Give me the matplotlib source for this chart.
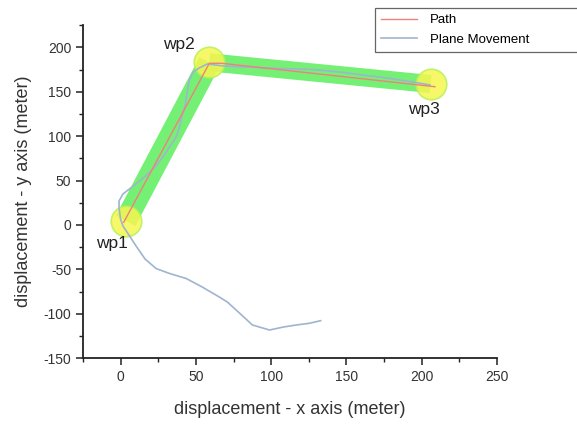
import matplotlib
matplotlib.use('Agg')
import matplotlib.pyplot as plt
import numpy as np

plt.rcParams['font.family'] = ['Liberation Sans', 'DejaVu Sans']
plt.rcParams['axes.unicode_minus'] = False

# ── Data ──
wp_names = ["wp1", "wp2", "wp3"]
wp_x = [3.3, 58.9, 206.0]
wp_y = [4.8, 183.1, 158.7]

path_x = [2.0, 58.9, 67.0, 208.9]
path_y = [3.0, 182.0, 182.0, 155.6]

plane_x = [132.9, 125.5, 116.9, 108.2, 98.9, 87.5, 78.9, 70.9, 65.5, 54.2,
           43.5, 32.2, 23.5, 16.2, 10.2, 5.5, 1.5, -0.1, -1.1, -1.1,
           1.5, 7.5, 15.5, 22.2, 28.2, 32.9, 36.9, 38.9, 40.9, 42.9,
           44.2, 45.5, 48.2, 52.2, 57.5, 68.9, 83.5, 105.5, 127.5, 145.5,
           160.9, 178.9, 194.2, 205.5]
plane_y = [-107.7, -110.6, -112.5, -114.8, -118.2, -112.5, -99.0, -86.7, -81.0, -69.8,
           -60.2, -54.4, -49.0, -38.3, -23.6, -11.3, -1.1, 6.8, 19.1, 27.0,
           34.9, 42.8, 53.5, 64.1, 76.9, 88.9, 99.4, 109.2, 123.8, 135.0,
           149.7, 163.2, 172.2, 176.7, 181.2, 178.9, 177.8, 176.1, 175.0, 172.2,
           168.8, 164.9, 160.9, 157.6]

label_x = [-5.6, 38.9, 201.5]
label_y = [-20.6, 202.6, 130.2]

fig = plt.figure(figsize=(5.77, 4.25), dpi=100)
ax = fig.add_axes([0.144, 0.157, 0.717, 0.784])

# corridor bands
ax.plot(wp_x[0:2], wp_y[0:2], color='#5cef5c', alpha=0.85, lw=16,
        solid_capstyle='butt', zorder=1)
ax.plot(wp_x[1:3], wp_y[1:3], color='#5cef5c', alpha=0.85, lw=13,
        solid_capstyle='butt', zorder=1)

# waypoint circles
ax.plot(wp_x, wp_y, 'o', ms=22, mfc='#f6f650', mec='#b6f25a', mew=1.2,
        alpha=0.85, ls='none', zorder=2)

ax.plot(path_x, path_y, color='#f08080', lw=1.0, label='Path', zorder=4)
ax.plot(plane_x, plane_y, color='#9fb4cf', lw=1.2, label='Plane Movement', zorder=3)

for name, lx, ly in zip(wp_names, label_x, label_y):
    ax.text(lx, ly, name, fontsize=12.5, ha='center', va='center', color='#222222')

ax.set_xlim(-25, 250)
ax.set_ylim(-150, 225)
ax.set_xticks(np.arange(0, 251, 50))
ax.set_yticks(np.arange(-150, 201, 50))
ax.set_xticks(np.arange(-25, 251, 25), minor=True)
ax.set_yticks(np.arange(-150, 226, 25), minor=True)

for s in ['top', 'right']:
    ax.spines[s].set_visible(False)
for s in ['left', 'bottom']:
    ax.spines[s].set_linewidth(1.3)
    ax.spines[s].set_color('#222222')

ax.tick_params(which='major', direction='out', length=5, width=1.1,
               labelsize=10, colors='#222222', labelcolor='#333333')
ax.tick_params(which='minor', direction='out', length=3, width=1.0, colors='#222222')

ax.set_xlabel('displacement - x axis (meter)', fontsize=13, color='#333333', labelpad=12)
ax.set_ylabel('displacement - y axis (meter)', fontsize=13, color='#333333', labelpad=8)

# legend box runs off the right edge, as in the reference
leg = fig.legend(loc='upper left',
                 bbox_to_anchor=(375 / 577, 1 - 52 / 425, 215 / 577, 44 / 425),
                 mode='expand', borderaxespad=0, fontsize=9.5, handlelength=2.7,
                 fancybox=False, edgecolor='#666666', framealpha=1, labelspacing=0.55,
                 borderpad=0.45, handletextpad=1.0)
leg.get_frame().set_linewidth(0.9)

fig.savefig('out.png', dpi=100)
